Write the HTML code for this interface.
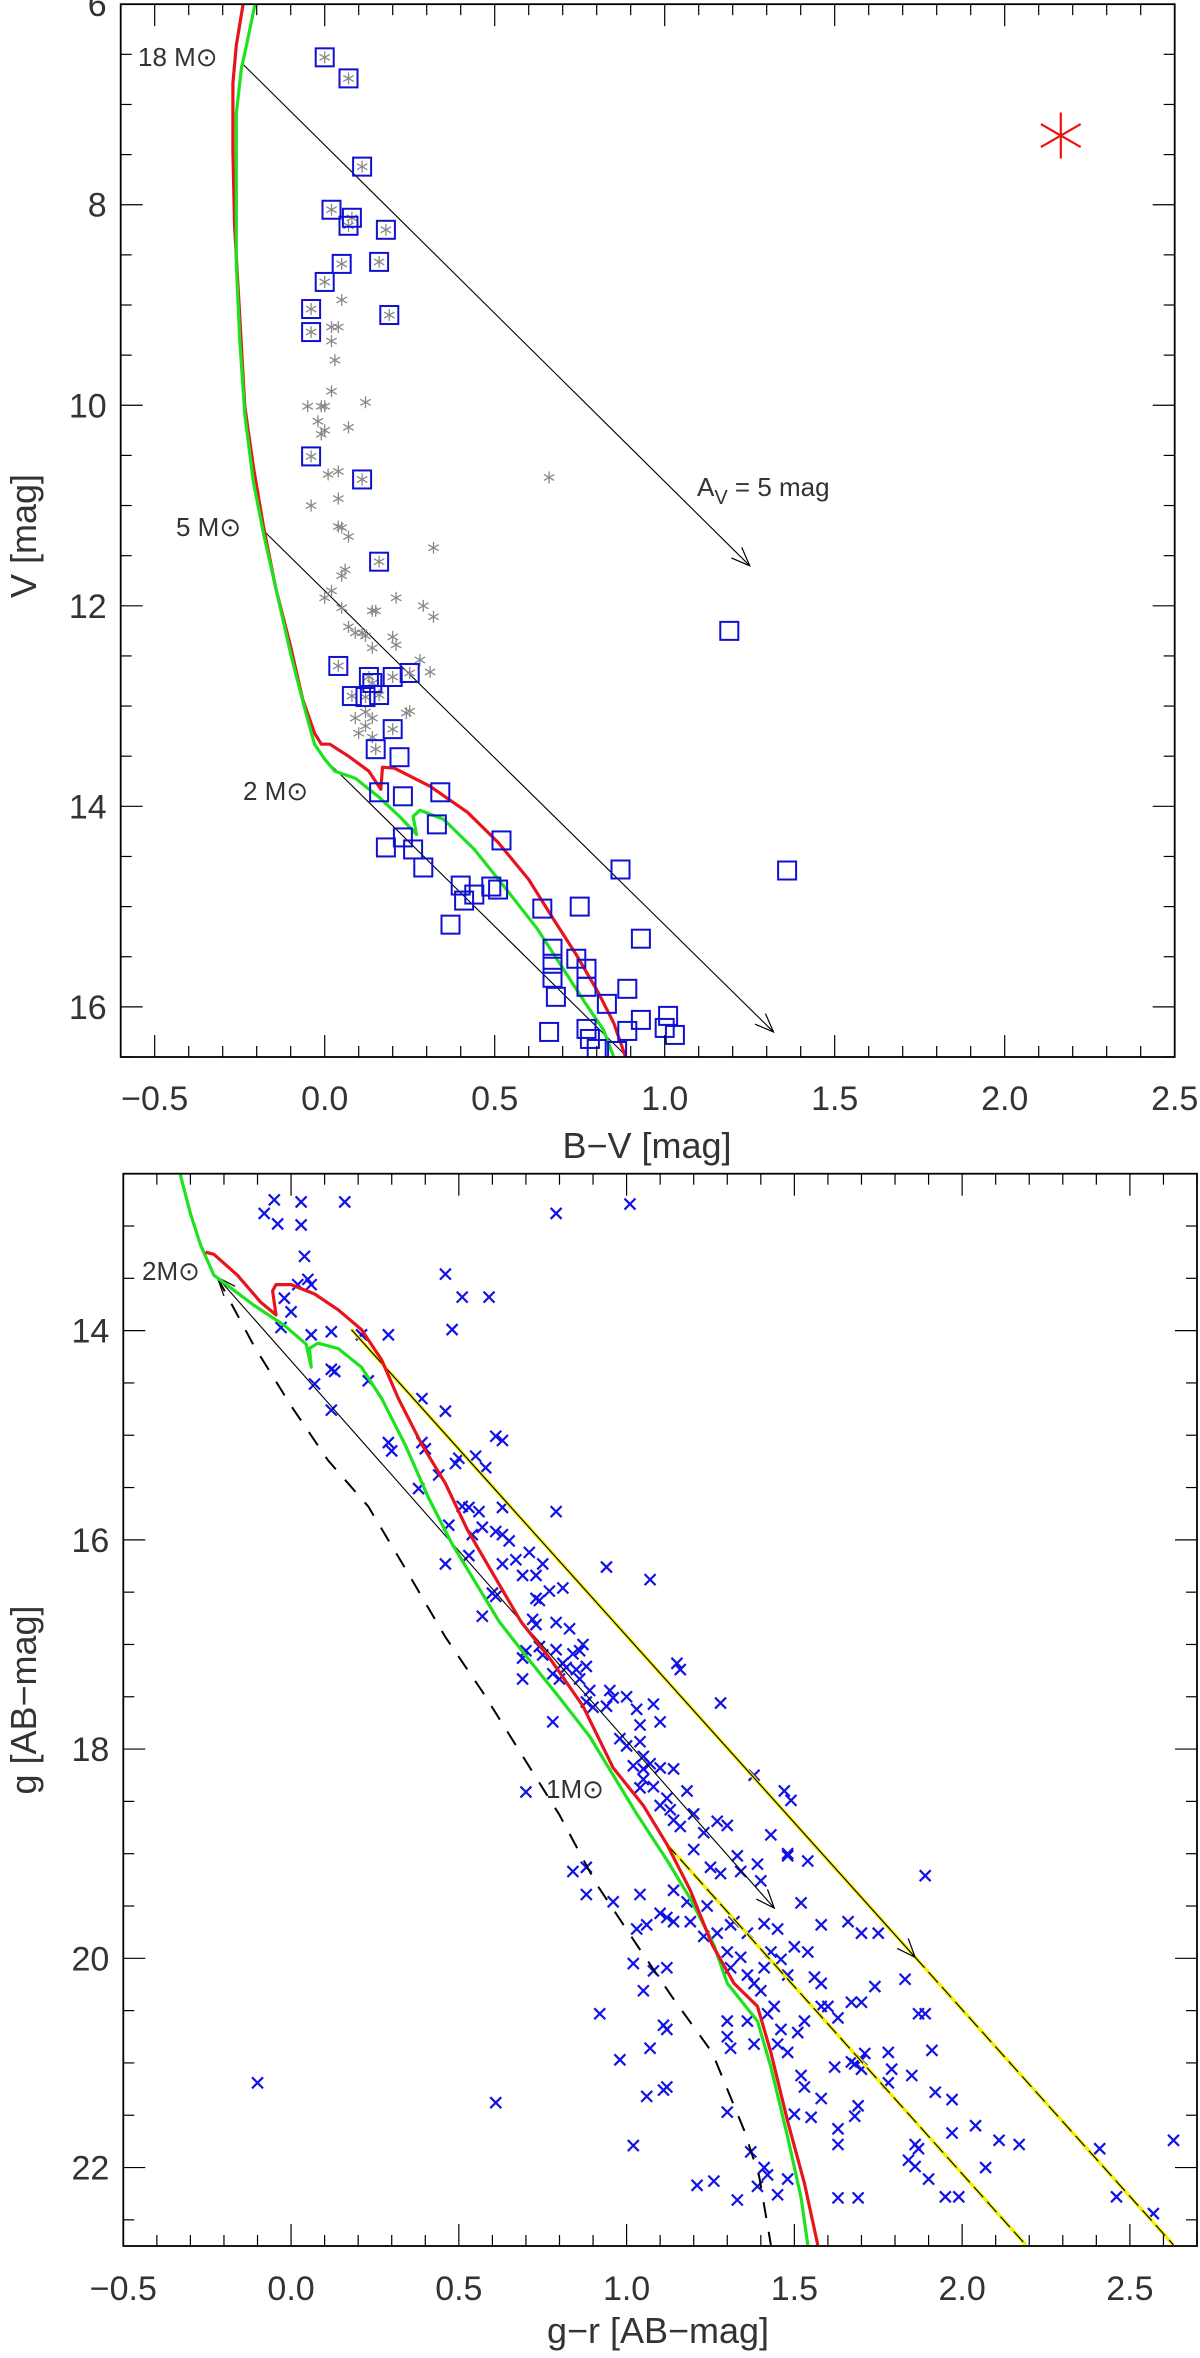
<!DOCTYPE html>
<html><head><meta charset="utf-8"><title>CMD</title>
<style>
html,body{margin:0;padding:0;background:#fff;}
svg{display:block;}
text{font-family:"Liberation Sans",sans-serif;fill:#333;}
</style></head>
<body>
<svg id="chart" width="1200" height="2358" viewBox="0 0 1200 2358" xmlns="http://www.w3.org/2000/svg">
<g id="top"></g>
<g id="bot"></g>
</svg>
<script>
// ---------- TOP PANEL DATA ----------
const topXTicks = [-0.5, 0.0, 0.5, 1.0, 1.5, 2.0, 2.5];
const topXTickLabels = ["\u22120.5","0.0","0.5","1.0","1.5","2.0","2.5"];
const topYTicks = [6, 8, 10, 12, 14, 16];
const topYTickLabels = ["6","8","10","12","14","16"];
const topSqBV = [0.00,0.07,0.11,0.02,0.08,0.07,0.18,0.05,0.16,0.00,0.19,-0.04,-0.04,-0.04,0.11,0.16,0.04,0.13,0.14,0.08,0.12,0.16,0.20,0.25,0.20,0.15,0.22,0.16,0.23,0.34,0.33,0.18,0.23,0.26,0.29,0.52,0.40,0.44,0.49,0.51,0.37,0.41,0.64,0.75,0.67,0.67,0.67,0.68,0.74,0.77,0.77,0.89,0.83,0.93,0.87,1.19,1.36,0.66,0.77,0.78,0.80,0.86,0.89,0.93,1.01,1.00,1.03];
const topSqV = [6.53,6.74,7.62,8.05,8.13,8.21,8.25,8.59,8.57,8.77,9.10,9.04,9.27,10.51,10.74,11.56,12.60,12.71,12.77,12.90,12.91,12.89,12.71,12.67,13.23,13.43,13.51,13.86,13.90,13.86,14.18,14.41,14.31,14.43,14.61,14.34,14.79,14.88,14.80,14.83,15.18,14.94,15.02,15.00,15.42,15.57,15.71,15.90,15.52,15.62,15.80,15.82,15.97,15.32,14.63,12.25,14.64,16.25,16.22,16.32,16.42,16.44,16.24,16.13,16.09,16.21,16.28];
const topAstBV = [0.05,0.02,0.04,0.02,0.03,0.02,0.12,-0.05,-0.01,0.00,0.07,-0.02,-0.01,0.00,0.01,0.04,0.04,-0.04,0.04,0.05,0.07,0.32,0.06,0.05,0.02,0.00,0.05,0.14,0.15,0.21,0.29,0.32,0.07,0.09,0.11,0.12,0.20,0.21,0.14,0.28,0.31,0.09,0.12,0.14,0.12,0.10,0.14,0.24,0.25,0.66];
const topAstV = [8.95,9.22,9.22,9.36,9.55,9.86,9.97,10.01,10.01,10.01,10.22,10.16,10.29,10.25,10.69,10.66,10.93,11.00,11.21,11.22,11.31,11.42,11.64,11.70,11.85,11.92,12.02,12.05,12.05,11.92,12.00,12.11,12.21,12.27,12.27,12.30,12.31,12.39,12.42,12.54,12.66,13.12,13.06,13.12,13.20,13.27,13.31,13.07,13.05,10.72];
const topRedBV = [-0.24,-0.26,-0.27,-0.27,-0.265,-0.25,-0.235,-0.21,-0.18,-0.145,-0.10,-0.065,-0.03,-0.01,0.015,0.07,0.13,0.165,0.17,0.205,0.31,0.42,0.51,0.60,0.67,0.74,0.805,0.85,0.885];
const topRedV = [6.0,6.41,6.79,7.46,8.21,9.11,10.01,10.61,11.21,11.81,12.41,12.93,13.27,13.38,13.38,13.50,13.65,13.83,13.61,13.62,13.80,14.06,14.36,14.73,15.11,15.48,15.86,16.16,16.5];
const topGreenBV = [-0.205,-0.23,-0.245,-0.26,-0.26,-0.26,-0.25,-0.235,-0.21,-0.18,-0.14,-0.10,-0.06,-0.03,0.0,0.03,0.09,0.16,0.22,0.27,0.26,0.28,0.35,0.44,0.53,0.625,0.69,0.76,0.82,0.85];
const topGreenV = [6.0,6.41,6.64,7.09,7.84,8.59,9.34,10.09,10.76,11.28,11.88,12.48,13.01,13.38,13.53,13.65,13.72,13.91,14.10,14.28,14.10,14.04,14.13,14.43,14.81,15.22,15.56,15.93,16.23,16.5];
const topVecStartBV = [-0.24,-0.18,0.025];
const topVecStartV = [6.6,11.25,13.61];
const topVecEndBV = [1.25,1.32,0.89];
const topVecEndV = [11.6,16.25,16.5];
const topVecArrow = [true,true,false];
const targetBV = [2.165];
const targetV = [7.31];

// ---------- BOTTOM PANEL DATA ----------
const botXTicks = [-0.5,0.0,0.5,1.0,1.5,2.0,2.5];
const botXTickLabels = ["\u22120.5","0.0","0.5","1.0","1.5","2.0","2.5"];
const botYTicks = [14,16,18,20,22];
const botYTickLabels = ["14","16","18","20","22"];
const botGreenGR = [-0.33,-0.30,-0.27,-0.23,-0.11,-0.02,0.045,0.06,0.055,0.08,0.14,0.21,0.27,0.34,0.41,0.48,0.55,0.62,0.71,0.80,0.89,0.96,1.03,1.12,1.19,1.26,1.30,1.39,1.43,1.48,1.52,1.54];
const botGreenG = [12.51,12.88,13.18,13.47,13.76,13.95,14.13,14.35,14.17,14.12,14.17,14.35,14.65,15.09,15.60,16.04,16.41,16.78,17.15,17.51,17.88,18.25,18.62,19.06,19.43,19.87,20.24,20.60,21.04,21.71,22.29,22.74];
const botRedGR = [-0.255,-0.23,-0.16,-0.09,-0.045,-0.055,-0.045,0.0,0.07,0.14,0.21,0.27,0.32,0.39,0.46,0.525,0.59,0.685,0.775,0.87,0.96,1.05,1.12,1.19,1.255,1.32,1.39,1.43,1.48,1.53,1.57];
const botRedG = [13.25,13.27,13.47,13.73,13.85,13.62,13.56,13.56,13.65,13.80,13.99,14.28,14.65,15.09,15.46,15.90,16.26,16.78,17.15,17.59,18.18,18.54,18.91,19.35,19.87,20.24,20.46,20.90,21.56,22.15,22.74];
const botDashGR = [-0.22,-0.11,0.0,0.11,0.23,0.34,0.46,0.57,0.685,0.80,0.91,1.03,1.14,1.255,1.35,1.395,1.43];
const botDashG = [13.49,14.15,14.72,15.24,15.68,16.27,16.93,17.45,18.04,18.63,19.29,19.87,20.39,20.90,21.64,22.08,22.74];
const botXGR = [-0.05,-0.08,-0.04,0.03,0.16,0.03,0.04,0.05,0.06,0.02,-0.02,0.00,-0.03,0.06,0.12,0.21,0.29,0.12,0.13,0.07,0.12,0.23,0.39,0.46,0.29,0.30,0.39,0.40,0.38,0.44,0.49,0.50,0.55,0.58,0.61,0.63,0.63,0.51,0.53,0.56,0.57,0.54,0.47,0.46,0.53,0.61,0.63,0.65,0.71,0.67,0.63,0.73,0.75,0.69,0.74,0.73,0.77,0.81,0.57,0.60,0.61,0.72,0.73,0.79,0.83,0.69,0.70,0.74,0.75,0.79,0.81,0.84,0.86,0.87,0.78,0.80,0.85,0.88,0.69,0.78,0.82,0.86,0.89,0.95,0.88,0.90,0.94,0.96,1.00,1.03,1.04,1.10,1.08,0.98,1.00,1.04,1.05,1.07,1.02,1.05,1.10,1.14,1.04,1.05,1.08,1.12,1.10,1.13,1.18,1.20,1.23,1.27,1.30,1.14,1.16,1.20,1.25,1.28,1.33,1.34,1.39,1.40,1.43,1.48,1.54,1.52,1.58,1.45,1.50,1.43,1.41,1.36,1.32,1.30,1.34,1.31,1.36,1.38,1.40,1.41,1.46,1.48,1.54,1.56,1.58,1.60,1.63,1.53,1.51,1.46,1.44,1.45,1.48,1.52,1.53,1.58,1.55,1.50,1.63,1.63,1.68,1.69,1.67,1.68,1.70,1.71,1.74,1.70,1.67,1.70,1.78,1.79,1.78,1.85,1.86,1.86,1.87,1.84,1.90,1.89,1.87,1.83,1.70,1.75,1.58,1.62,1.91,1.92,1.97,1.97,2.04,2.07,2.11,2.17,1.95,1.99,2.41,2.46,2.57,2.63,1.89,1.63,1.69,1.37,1.41,1.39,1.45,1.42,1.33,1.26,1.21,1.48,1.42,1.36,1.30,1.30,1.31,1.38,1.30,1.11,1.12,1.07,1.06,1.12,1.11,1.02,-0.10,0.61,0.92,0.98,1.02,1.06,1.04,0.96,0.88,0.88,0.84,0.70,0.79,1.01,0.46,0.51,0.59,0.48,0.79,0.94,1.07,1.15,1.16,1.28,1.38,1.47,1.49,1.48,1.66,1.31,1.27,1.23,1.24,1.18,1.14,1.12,1.10,1.14,1.19,1.03,1.08,1.05,1.12];
const botXG = [12.75,12.88,12.98,12.77,12.77,12.99,13.29,13.51,13.56,13.56,13.69,13.82,13.97,14.04,14.01,14.04,14.04,14.37,14.39,14.51,14.76,14.48,14.65,14.77,15.07,15.15,15.07,15.13,15.51,15.38,15.27,15.22,15.20,15.31,15.01,15.05,15.69,15.68,15.69,15.73,15.88,15.95,15.86,16.23,16.15,15.92,15.95,16.01,16.12,16.19,16.23,16.34,16.23,16.34,16.58,16.56,16.49,16.46,16.73,16.51,16.54,16.76,16.81,16.79,16.85,17.13,17.06,17.02,17.10,17.05,17.18,17.09,17.06,17.00,17.28,17.33,17.24,17.21,17.33,17.74,17.22,17.33,17.44,17.44,17.55,17.60,17.59,17.51,17.50,17.62,17.77,17.74,17.57,17.90,17.97,17.93,18.07,18.14,18.16,18.19,18.18,18.19,18.37,18.29,18.36,18.47,18.54,18.58,18.40,18.62,18.80,18.69,18.73,18.68,18.74,18.96,19.13,19.19,19.02,19.17,19.10,19.26,18.82,19.02,19.07,19.47,19.68,19.72,19.89,19.94,19.67,19.76,19.65,19.94,19.99,20.09,20.16,20.24,20.31,20.09,20.01,20.16,19.94,20.18,20.24,20.46,20.57,20.60,20.71,20.68,20.46,20.82,20.90,21.12,21.23,21.34,21.52,21.49,21.63,21.78,21.51,21.41,20.99,21.01,21.06,20.91,20.27,20.97,20.42,20.42,20.90,21.06,21.19,21.12,21.78,21.99,21.82,21.93,22.11,20.53,20.53,20.20,19.76,19.76,20.46,21.04,20.88,21.28,21.35,21.67,21.60,22.00,21.74,21.78,22.28,22.28,21.82,22.28,22.44,21.74,19.21,22.29,22.29,21.85,22.00,22.18,22.26,22.07,22.31,22.13,22.17,22.11,20.53,20.60,20.60,20.75,20.86,20.82,21.47,20.64,20.68,20.86,21.32,21.23,21.26,21.79,21.19,21.38,20.53,20.97,20.05,19.68,19.39,19.46,19.39,19.13,19.17,18.41,12.88,12.79,13.46,13.68,13.68,13.99,15.73,16.26,16.38,17.18,17.24,17.56,18.25,18.40,18.49,19.00,19.65,19.68,19.76,19.79,19.50,19.46,19.35,19.61,19.57,19.65,19.65,19.72,20.12,20.31,20.09];
const botArrowStartGR = [-0.22];
const botArrowStartG = [13.49];
const botArrowEndGR = [1.44];
const botArrowEndG = [19.52];
const botYelStartGR = [0.18, 1.12];
const botYelStartG = [13.99, 18.91];
const botYelMidGR = [1.86, 1.12];
const botYelMidG = [19.99, 18.91];
const botYelEndGR = [2.63, 2.19];
const botYelEndG = [22.74, 22.74];

const NS = "http://www.w3.org/2000/svg";
function mk(parent, tag, attrs, name){
  const e = document.createElementNS(NS, tag);
  for (const k in attrs) e.setAttribute(k, attrs[k]);
  
  
  parent.appendChild(e);
  return e;
}
function lin(d0,d1,p0,p1){ return v => p0 + (v-d0)*(p1-p0)/(d1-d0); }

function axes(g, L, R, T, B, sx, sy, xmin, xmax, ymin, ymax, xt, xtl, yt, ytl, xTitle, yTitle, labY, titleY, titleX, yTitleX, yTitleY){
  mk(g,'rect',{x:L,y:T,width:R-L,height:B-T,fill:'none',stroke:'#000','stroke-width':1.8},'plot-frame');
  for (let i=Math.ceil(xmin*10-1e-6); i<=Math.floor(xmax*10+1e-6); i++){
    const v=i/10, x=sx(v), major = (i%5===0);
    const len = major?22:11;
    mk(g,'line',{x1:x,y1:B,x2:x,y2:B-len,stroke:'#000','stroke-width':1.2},'x-tick');
    mk(g,'line',{x1:x,y1:T,x2:x,y2:T+len,stroke:'#000','stroke-width':1.2},'x-tick-top');
  }
  for (let i=Math.ceil(ymin*2-1e-6); i<=Math.floor(ymax*2+1e-6); i++){
    const v=i/2, y=sy(v), major = (i%4===0);
    const len = major?22:11;
    mk(g,'line',{x1:L,y1:y,x2:L+len,y2:y,stroke:'#000','stroke-width':1.2},'y-tick');
    mk(g,'line',{x1:R,y1:y,x2:R-len,y2:y,stroke:'#000','stroke-width':1.2},'y-tick-right');
  }
  xt.forEach((v,i)=>{
    const t=mk(g,'text',{x:sx(v),y:labY,'text-anchor':'middle','font-size':34},'x-tick-label');
    t.textContent=xtl[i];
  });
  yt.forEach((v,i)=>{
    const t=mk(g,'text',{x:L-14,y:sy(v)+12,'text-anchor':'end','font-size':34},'y-tick-label');
    t.textContent=ytl[i];
  });
  const xt2=mk(g,'text',{x:titleX,y:titleY,'text-anchor':'middle','font-size':36},'x-axis-title');
  xt2.textContent=xTitle;
  const yt2=mk(g,'text',{x:yTitleX,y:yTitleY,'text-anchor':'middle','font-size':36,transform:`rotate(-90 ${yTitleX} ${yTitleY})`},'y-axis-title');
  yt2.textContent=yTitle;
}
function poly(g, xs, ys, sx, sy, attrs, name){
  const pts = xs.map((v,i)=>sx(v).toFixed(1)+','+sy(ys[i]).toFixed(1)).join(' ');
  return mk(g,'polyline',Object.assign({points:pts,fill:'none'},attrs),name);
}
function arrowHead(g, x1,y1,x2,y2, name){
  const a=Math.atan2(y2-y1,x2-x1), L=20, w=0.38;
  const p1=[x2-L*Math.cos(a-w), y2-L*Math.sin(a-w)], p2=[x2-L*Math.cos(a+w), y2-L*Math.sin(a+w)];
  mk(g,'polyline',{points:`${p1} ${x2},${y2} ${p2}`,fill:'none',stroke:'#000','stroke-width':1.2},name);
}

// ===== TOP =====
(function(){
  const g=document.getElementById('top');
  const L=120.7,R=1174.7,T=4.2,B=1057;
  const sx=lin(-0.6,2.5,L,R), sy=lin(6,16.5,T,B);
  const defs=mk(g,'defs',{},'defs'); const cp=mk(defs,'clipPath',{id:'clipTop'},'clip-top');
  mk(cp,'rect',{x:L,y:T,width:R-L,height:B-T},'clip-rect');
  const data=mk(g,'g',{'clip-path':'url(#clipTop)'},'data-layer');
  topVecStartBV.forEach((v,i)=>{
    const x1=sx(v),y1=sy(topVecStartV[i]),x2=sx(topVecEndBV[i]),y2=sy(topVecEndV[i]);
    mk(data,'line',{x1,y1,x2,y2,stroke:'#000','stroke-width':1.1},'reddening-vector');
    if(topVecArrow[i]) arrowHead(data,x1,y1,x2,y2,'reddening-arrowhead');
  });
  function aster(px,py,r,col,sw,name){
    const gg=mk(data,'g',{},name);
    for(let k=0;k<3;k++){const a=Math.PI/2+k*Math.PI/3;
      mk(gg,'line',{x1:px-r*Math.cos(a),y1:py-r*Math.sin(a),x2:px+r*Math.cos(a),y2:py+r*Math.sin(a),stroke:col,'stroke-width':sw},'asterisk-stroke');}
  }
  topAstBV.forEach((v,i)=>aster(sx(v),sy(topAstV[i]),6,'#888',1.3,'star-asterisk'));
  topSqBV.forEach((v,i)=>{ if(topSqV[i]<13.5 && v<0.4) aster(sx(v),sy(topSqV[i]),6,'#888',1.3,'star-asterisk'); });
  poly(data,topRedBV,topRedV,sx,sy,{stroke:'#e8141c','stroke-width':3.2,'stroke-linejoin':'round'},'isochrone-red');
  poly(data,topGreenBV,topGreenV,sx,sy,{stroke:'#1ee21e','stroke-width':3.2,'stroke-linejoin':'round'},'isochrone-green');
  topSqBV.forEach((v,i)=>{
    mk(data,'rect',{x:sx(v)-9,y:sy(topSqV[i])-9,width:18,height:18,fill:'none',stroke:'#1010d0','stroke-width':2},'member-square');
  });
  aster(sx(targetBV[0]),sy(targetV[0]),23,'#ee1111',2.2,'target-asterisk');
  const l1=mk(g,'text',{x:138,y:66,'font-size':26},'mass-label-18'); l1.textContent='18 M\u2299';
  const l2=mk(g,'text',{x:176,y:536,'font-size':26},'mass-label-5'); l2.textContent='5 M\u2299';
  const l3=mk(g,'text',{x:243,y:800,'font-size':26},'mass-label-2'); l3.textContent='2 M\u2299';
  const l4=mk(g,'text',{x:697,y:496,'font-size':26},'extinction-label');
  l4.innerHTML='A<tspan dy="8" font-size="20">V</tspan><tspan dy="-8"> = 5 mag</tspan>';
  axes(g,L,R,T,B,sx,sy,-0.6,2.5,6,16.5,topXTicks,topXTickLabels,topYTicks,topYTickLabels,
       'B\u2212V [mag]','V [mag]',1110,1158,647,36,536);
})();

// ===== BOTTOM =====
(function(){
  const g=document.getElementById('bot');
  const L=123.3,R=1197,T=1173.7,B=2246;
  const sx=lin(-0.5,2.7,L,R), sy=lin(12.5,22.75,T,B);
  const defs=mk(g,'defs',{},'defs'); const cp=mk(defs,'clipPath',{id:'clipBot'},'clip-bot');
  mk(cp,'rect',{x:L,y:T,width:R-L,height:B-T},'clip-rect');
  const data=mk(g,'g',{'clip-path':'url(#clipBot)'},'data-layer');
  botXGR.forEach((v,i)=>{
    const px=sx(v),py=sy(botXG[i]),r=5.5;
    const gg=mk(data,'g',{},'star-cross');
    mk(gg,'line',{x1:px-r,y1:py-r,x2:px+r,y2:py+r,stroke:'#1212e6','stroke-width':2.2},'cross-stroke');
    mk(gg,'line',{x1:px-r,y1:py+r,x2:px+r,y2:py-r,stroke:'#1212e6','stroke-width':2.2},'cross-stroke');
  });
  botYelStartGR.forEach((v,i)=>{
    const x1=sx(v),y1=sy(botYelStartG[i]),xm=sx(botYelMidGR[i]),ym=sy(botYelMidG[i]),x2=sx(botYelEndGR[i]),y2=sy(botYelEndG[i]);
    mk(data,'line',{x1,y1,x2,y2,stroke:'#f5f000','stroke-width':3.5},'reddened-isochrone-yellow');
    mk(data,'line',{x1,y1,x2:xm,y2:ym,stroke:'#000','stroke-width':1.1},'reddening-vector');
    mk(data,'line',{x1:xm,y1:ym,x2,y2,stroke:'#000','stroke-width':1.1,'stroke-dasharray':'14 6'},'reddening-vector-dashed');
    if(i===0) arrowHead(data,x1,y1,xm,ym,'reddening-arrowhead');
  });
  const ax1=sx(botArrowStartGR[0]),ay1=sy(botArrowStartG[0]),ax2=sx(botArrowEndGR[0]),ay2=sy(botArrowEndG[0]);
  mk(data,'line',{x1:ax1,y1:ay1,x2:ax2,y2:ay2,stroke:'#000','stroke-width':1.1},'reddening-vector-2msun');
  arrowHead(data,ax1,ay1,ax2,ay2,'reddening-arrowhead');
  arrowHead(data,ax2,ay2,ax1,ay1,'reddening-arrowhead-start');
  poly(data,botDashGR,botDashG,sx,sy,{stroke:'#000','stroke-width':2,'stroke-dasharray':'16 14'},'main-sequence-dashed');
  poly(data,botGreenGR,botGreenG,sx,sy,{stroke:'#1ee21e','stroke-width':3.2,'stroke-linejoin':'round'},'isochrone-green');
  poly(data,botRedGR,botRedG,sx,sy,{stroke:'#e8141c','stroke-width':3.2,'stroke-linejoin':'round'},'isochrone-red');
  const l1=mk(g,'text',{x:142,y:1280,'font-size':26},'mass-label-2'); l1.textContent='2M\u2299';
  const l2=mk(g,'text',{x:546,y:1798,'font-size':26},'mass-label-1'); l2.textContent='1M\u2299';
  axes(g,L,R,T,B,sx,sy,-0.5,2.7,12.5,22.75,botXTicks,botXTickLabels,botYTicks,botYTickLabels,
       'g\u2212r [AB\u2212mag]','g [AB\u2212mag]',2300,2343,658,36,1700);
})();
</script>
</body></html>
